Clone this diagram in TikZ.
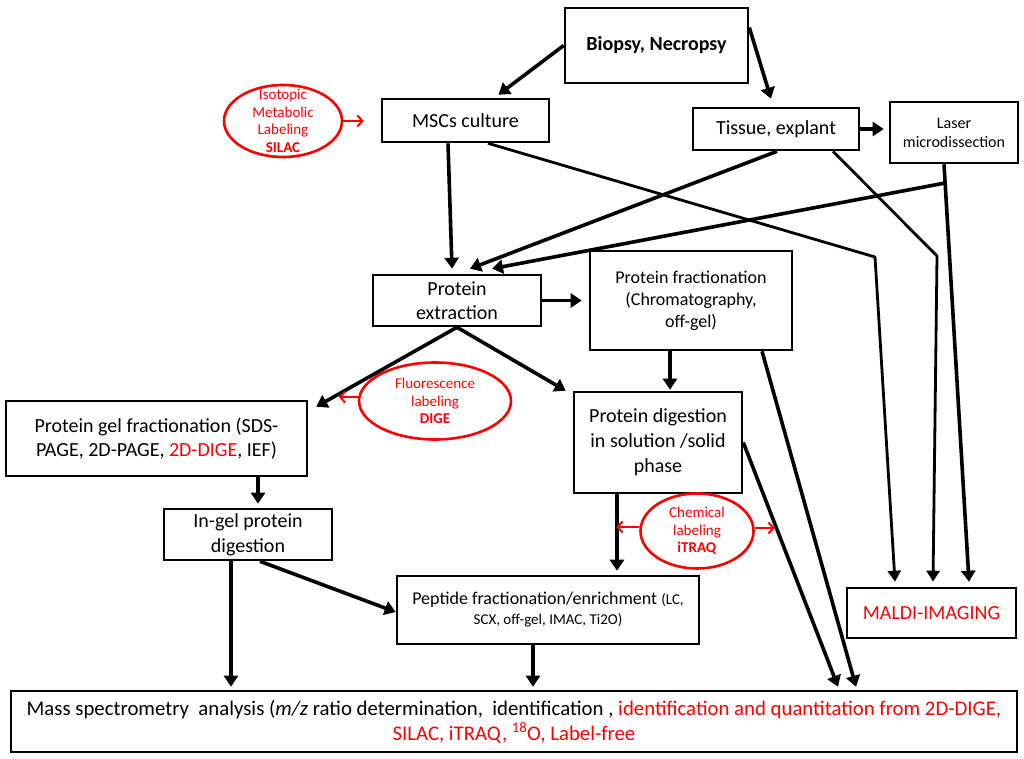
\documentclass[tikz,border=0pt]{standalone}
\usepackage{fontspec}
\setmainfont{Carlito}
\usepackage{xcolor}
\usetikzlibrary{arrows.meta}
\usetikzlibrary{shapes.geometric}

\newcommand{\fsz}[2]{\fontsize{#1}{#2}\selectfont}

\begin{document}
\begin{tikzpicture}[x=1pt, y=-1pt,
		box/.style = {draw, line width=2.6pt, rectangle, align=center, inner sep=0pt, font=\fsz{20}{24}},
		oval/.style = {draw=red, line width=2.6pt, ellipse, inner sep=0pt},
		ovaltext/.style = {text=red, align=center, font=\fsz{15}{17.7}},
		arr/.style = {line width=3.6pt, -{Triangle[length=11pt,width=14pt]}},
		thinarr/.style = {line width=2.8pt, line join=round, -{Triangle[length=11pt,width=13pt]}},
		redarr/.style = {red, line width=2pt, -{Straight Barb[length=5pt,width=11pt]}}]
		\useasboundingbox (0,0) rectangle (1024,759);
		\node[box, minimum width=183pt, minimum height=75pt, font=\bfseries\fsz{20}{24}] (bio) at (656.5,45.5) {Biopsy, Necropsy};
		\node[box, minimum width=167pt, minimum height=43pt] (msc) at (465.5,120.5) {MSCs culture};
		\node[box, minimum width=166pt, minimum height=42pt] (tis) at (776,129) {Tissue, explant};
		\node[box, minimum width=128pt, minimum height=61pt, font=\fsz{16}{19}] (las) at (954,132.5) {Laser\\microdissection};
		\node[box, minimum width=168pt, minimum height=51pt] (ext) at (457,300.5) {Protein\\extraction};
		\node[box, minimum width=202pt, minimum height=99pt, font=\fsz{18}{22}] (frac) at (691,300.5) {Protein fractionation\\(Chromatography,\\off-gel)};
		\node[box, minimum width=301pt, minimum height=75pt] (gel) at (156.5,438.5) {Protein gel fractionation (SDS-\\PAGE, 2D-PAGE, \textcolor{red}{2D-DIGE}, IEF)};
		\node[box, minimum width=168pt, minimum height=101pt, font=\fsz{20}{25}] (dig) at (658,442.5) {Protein digestion\\in solution /solid\\phase};
		\node[box, minimum width=168pt, minimum height=51pt, font=\fsz{20}{25}] (ingel) at (248,534.5) {In-gel protein\\digestion};
		\node[box, minimum width=302pt, minimum height=68pt, font=\fsz{18}{20}] (pep) at (548,610) {Peptide fractionation/enrichment {\fsz{15}{20}(LC,}\\{\fsz{15}{20}SCX, off-gel, IMAC, Ti2O)}};
		\node[box, minimum width=169pt, minimum height=50pt, text=red] (maldi) at (931.5,613) {MALDI-IMAGING};
		\node[box, minimum width=1006pt, minimum height=61pt, font=\fsz{20.8}{25}] (ms) at (514,721.5) {Mass spectrometry\ \ analysis (\textit{m/z} ratio determination,\ \ identification , \textcolor{red}{identification and quantitation from 2D-DIGE,}\\\textcolor{red}{SILAC, iTRAQ, \textsuperscript{18}O, Label-free}};
		\node[oval, minimum width=118pt, minimum height=72pt, label={[ovaltext]center:{Isotopic\\Metabolic\\Labeling\\\textbf{SILAC}}}] (silac) at (283,121) {};
		\node[oval, minimum width=152pt, minimum height=77pt, label={[ovaltext]center:{Fluorescence\\labeling\\\textbf{DIGE}}}] (dige) at (435,401) {};
		\node[oval, minimum width=113pt, minimum height=75pt, label={[ovaltext]center:{Chemical\\labeling\\\textbf{iTRAQ}}}] (itraq) at (697,531) {};
		\coordinate (c1) at (875,257);
		\coordinate (c2) at (937,256);
		\coordinate (lj) at (945,183);
		\draw[arr] (bio.west) -- ([xshift=33pt,yshift=3pt]msc.north);
		\draw[arr] ([yshift=18pt]bio.east) -- ([xshift=-5pt,yshift=8pt]tis.north);
		\draw[arr] (tis.east) -- ([xshift=-5pt]tis.east -| las.west);
		\draw[redarr] (silac.east) -- ([xshift=-17pt]silac.east -| msc.west);
		\draw[arr] ([xshift=-17.5pt]msc.south) -- ([xshift=-5pt,yshift=5pt]ext.north);
		\draw[arr] ([xshift=1pt]tis.south) -- ([xshift=13pt,yshift=5pt]ext.north);
		\draw[arr] (lj) -- ([xshift=35pt,yshift=5pt]ext.north);
		\draw[thinarr] ([xshift=22.5pt]msc.south) -- (c1) -- ([xshift=-36.5pt,yshift=5pt]maldi.north);
		\draw[thinarr] ([xshift=57pt]tis.south) -- (c2) -- ([xshift=1.5pt,yshift=5pt]maldi.north);
		\draw[arr] ([xshift=-10pt]las.south) -- ([xshift=37.5pt,yshift=5pt]maldi.north);
		\draw[arr] (ext.east) -- ([xshift=-7pt]ext.east -| frac.west);
		\draw[arr] (ext.south) -- ([xshift=8pt,yshift=-7pt]gel.north east);
		\draw[arr] (ext.south) -- ([xshift=-7pt]dig.north west);
		\draw[redarr] ([yshift=4pt]dige.west) -- ([xshift=-19pt,yshift=4pt]dige.west);
		\draw[arr] ([xshift=-21pt]frac.south) -- ([xshift=12pt,yshift=1pt]dig.north);
		\draw[arr] ([xshift=71pt]frac.south) -- ([xshift=342pt,yshift=3pt]ms.north);
		\draw[arr] (dig.east) -- ([xshift=324pt,yshift=3pt]ms.north);
		\draw[arr] ([xshift=101.5pt]gel.south) -- ([xshift=10pt,yshift=4pt]ingel.north);
		\draw[arr] ([xshift=12pt]ingel.south) -- ([yshift=-2pt]pep.west);
		\draw[arr] ([xshift=-17pt]ingel.south) -- ([xshift=-283pt,yshift=3pt]ms.north);
		\draw[arr] ([xshift=-41pt]dig.south) -- ([xshift=69pt,yshift=4pt]pep.north);
		\draw[arr] ([xshift=-15pt]pep.south) -- ([xshift=19pt,yshift=3pt]ms.north);
		\draw[redarr] ([yshift=4pt]itraq.west) -- ([xshift=-23pt,yshift=4pt]itraq.west);
		\draw[redarr] ([yshift=3pt]itraq.east) -- ([xshift=20pt,yshift=3pt]itraq.east);
\end{tikzpicture}
\end{document}
